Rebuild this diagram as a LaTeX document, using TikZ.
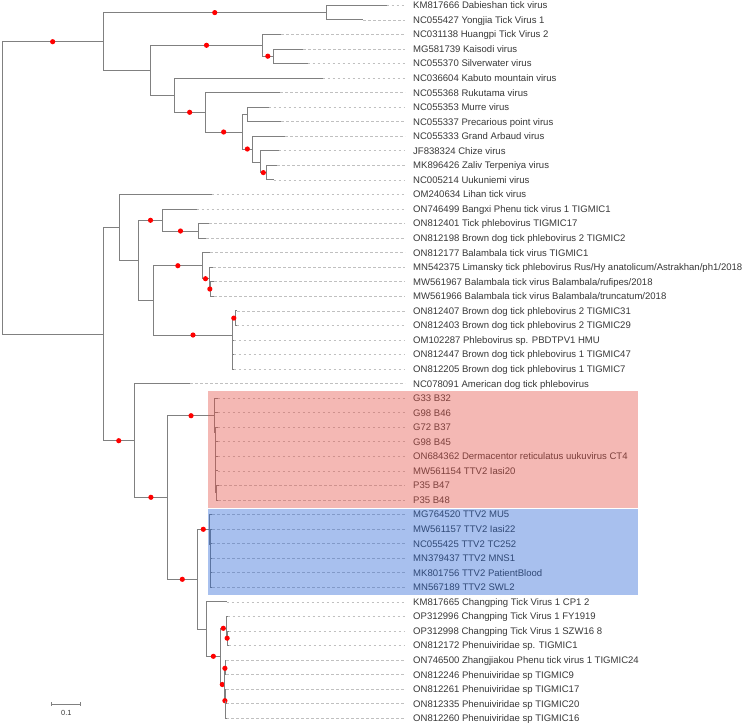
\documentclass[tikz,border=0pt]{standalone}
\usepackage{fontspec}
\setmainfont{Liberation Sans}
\definecolor{brc}{RGB}{128,128,128}
\definecolor{dshc}{RGB}{192,192,192}
\definecolor{txtc}{RGB}{55,55,55}
\definecolor{pinkc}{RGB}{228,77,67}
\definecolor{bluec}{RGB}{37,98,212}
\tikzset{
  br/.style={draw=brc,line width=0.9pt},
  dashln/.style={draw=dshc,line width=0.7pt,dash pattern=on 2.7pt off 2.3pt,shorten >=8pt},
  lab/.style={anchor=west,inner xsep=0pt,inner ysep=0pt,text height=6.85pt,text depth=0pt,text=txtc,font=\fontsize{9.55}{11}\selectfont},
  rdot/.style={circle,fill=red,inner sep=0pt,minimum size=5.2pt},
}
\newcommand\mkleaf[4]{%
  \coordinate (t#1) at (#2,{5.3+(#1-1)*14.55});
  \node[lab] (l#1) at (413,{5.3+(#1-1)*14.55}) {#4};
  \draw[dashln] (t#1) -- (l#1.west);
  \draw[br] (#3) |- (t#1);
}
\newcommand\pedge[2]{\draw[br] (#1) |- (#2);}
\newcommand\dedge[2]{\draw[br] (#1) |- (#2) node[rdot,pos=0.75] (d#2) {};}
\begin{document}
\begin{tikzpicture}[x=1pt,y=-1pt]
\useasboundingbox (0,0) rectangle (749,726);
% internal nodes
\coordinate (root) at (2.3,188);
\coordinate (A) at (103,41.7);
\coordinate (M) at (103,334.3);
\coordinate (B) at (326.5,12.6);
\coordinate (C) at (150.7,70.3);
\coordinate (D) at (262.3,45.3);
\coordinate (E) at (273.3,56.2);
\coordinate (F) at (174,95.3);
\coordinate (G) at (205.3,112.3);
\coordinate (H) at (242,132);
\coordinate (I) at (247.3,114.4);
\coordinate (J) at (252.7,149);
\coordinate (K) at (260,162);
\coordinate (L) at (266.7,172.6);
\coordinate (N) at (119.7,227.3);
\coordinate (O) at (138.7,260.3);
\coordinate (P) at (162.3,220.3);
\coordinate (Q) at (198.7,231);
\coordinate (R) at (153.7,300);
\coordinate (S) at (202,265.7);
\coordinate (T) at (209,278.7);
\coordinate (U) at (210.7,289);
\coordinate (V) at (232.3,335);
\coordinate (W) at (235.3,318.1);
\coordinate (X) at (134.5,440.7);
\coordinate (Y) at (167.3,497.3);
\coordinate (Z) at (214.8,415.7);
\coordinate (Z2) at (215.7,432);
\coordinate (Z3) at (216.7,492.7);
\coordinate (AA) at (197.3,579.3);
\coordinate (BL) at (209.3,529.3);
\coordinate (BL2) at (210,544);
\coordinate (BL3) at (210.8,551);
\coordinate (BB) at (206.7,629.3);
\coordinate (CC) at (220,656.3);
\coordinate (DD) at (226.6,628.3);
\coordinate (FF) at (227.7,638.2);
\coordinate (EE) at (224.6,684.5);
\coordinate (GG) at (225.2,668.3);
\coordinate (HH) at (225.2,700.7);
\coordinate (II) at (225.8,711);
% leaves
\mkleaf{1}{386.7}{B}{KM817666 Dabieshan tick virus}
\mkleaf{2}{363.3}{B}{NC055427 Yongjia Tick Virus 1}
\mkleaf{3}{281}{D}{NC031138 Huangpi Tick Virus 2}
\mkleaf{4}{303.3}{E}{MG581739 Kaisodi virus}
\mkleaf{5}{307.5}{E}{NC055370 Silverwater virus}
\mkleaf{6}{322.5}{F}{NC036604 Kabuto mountain virus}
\mkleaf{7}{280}{G}{NC055368 Rukutama virus}
\mkleaf{8}{268.7}{I}{NC055353 Murre virus}
\mkleaf{9}{281}{I}{NC055337 Precarious point virus}
\mkleaf{10}{285}{J}{NC055333 Grand Arbaud virus}
\mkleaf{11}{278.5}{K}{JF838324 Chize virus}
\mkleaf{12}{277}{L}{MK896426 Zaliv Terpeniya virus}
\mkleaf{13}{273.5}{L}{NC005214 Uukuniemi virus}
\mkleaf{14}{211.7}{N}{OM240634 Lihan tick virus}
\mkleaf{15}{196.7}{P}{ON746499 Bangxi Phenu tick virus 1 TIGMIC1}
\mkleaf{16}{209.3}{Q}{ON812401 Tick phlebovirus TIGMIC17}
\mkleaf{17}{206.3}{Q}{ON812198 Brown dog tick phlebovirus 2 TIGMIC2}
\mkleaf{18}{210}{S}{ON812177 Balambala tick virus TIGMIC1}
\mkleaf{19}{213}{T}{MN542375 Limansky tick phlebovirus Rus/Hy anatolicum/Astrakhan/ph1/2018}
\mkleaf{20}{214}{U}{MW561967 Balambala tick virus Balambala/rufipes/2018}
\mkleaf{21}{214}{U}{MW561966 Balambala tick virus Balambala/truncatum/2018}
\mkleaf{22}{237}{W}{ON812407 Brown dog tick phlebovirus 2 TIGMIC31}
\mkleaf{23}{236.5}{W}{ON812403 Brown dog tick phlebovirus 2 TIGMIC29}
\mkleaf{24}{233.5}{V}{OM102287 Phlebovirus sp. PBDTPV1 HMU}
\mkleaf{25}{233.5}{V}{ON812447 Brown dog tick phlebovirus 1 TIGMIC47}
\mkleaf{26}{233.5}{V}{ON812205 Brown dog tick phlebovirus 1 TIGMIC7}
\mkleaf{27}{190}{X}{NC078091 American dog tick phlebovirus}
\mkleaf{28}{217.5}{Z}{G33 B32}
\mkleaf{29}{217.5}{Z}{G98 B46}
\mkleaf{30}{217.5}{Z2}{G72 B37}
\mkleaf{31}{217.5}{Z2}{G98 B45}
\mkleaf{32}{217.5}{Z2}{ON684362 Dermacentor reticulatus uukuvirus CT4}
\mkleaf{33}{217.5}{Z2}{MW561154 TTV2 Iasi20}
\mkleaf{34}{219}{Z3}{P35 B47}
\mkleaf{35}{218}{Z3}{P35 B48}
\mkleaf{36}{212}{BL}{MG764520 TTV2 MU5}
\mkleaf{37}{212}{BL2}{MW561157 TTV2 Iasi22}
\mkleaf{38}{212}{BL3}{NC055425 TTV2 TC252}
\mkleaf{39}{212}{BL3}{MN379437 TTV2 MNS1}
\mkleaf{40}{212}{BL2}{MK801756 TTV2 PatientBlood}
\mkleaf{41}{212}{BL2}{MN567189 TTV2 SWL2}
\mkleaf{42}{226.7}{BB}{KM817665 Changping Tick Virus 1 CP1 2}
\mkleaf{43}{227.5}{DD}{OP312996 Changping Tick Virus 1 FY1919}
\mkleaf{44}{228.5}{FF}{OP312998 Changping Tick Virus 1 SZW16 8}
\mkleaf{45}{228.5}{FF}{ON812172 Phenuiviridae sp. TIGMIC1}
\mkleaf{46}{226}{GG}{ON746500 Zhangjiakou Phenu tick virus 1 TIGMIC24}
\mkleaf{47}{226}{GG}{ON812246 Phenuiviridae sp TIGMIC9}
\mkleaf{48}{226}{HH}{ON812261 Phenuiviridae sp TIGMIC17}
\mkleaf{49}{226}{II}{ON812335 Phenuiviridae sp TIGMIC20}
\mkleaf{50}{226}{II}{ON812260 Phenuiviridae sp TIGMIC16}
% internal edges
\dedge{root}{A}
\pedge{root}{M}
\dedge{A}{B}
\pedge{A}{C}
\dedge{C}{D}
\dedge{D}{E}
\pedge{C}{F}
\dedge{F}{G}
\dedge{G}{H}
\pedge{H}{I}
\dedge{H}{J}
\pedge{J}{K}
\dedge{K}{L}
\pedge{M}{N}
\pedge{N}{O}
\dedge{O}{P}
\dedge{P}{Q}
\pedge{O}{R}
\dedge{R}{S}
\dedge{S}{T}
\dedge{T}{U}
\dedge{R}{V}
\dedge{V}{W}
\dedge{M}{X}
\dedge{X}{Y}
\dedge{Y}{Z}
\pedge{Z}{Z2}
\pedge{Z2}{Z3}
\dedge{Y}{AA}
\dedge{AA}{BL}
\pedge{BL}{BL2}
\pedge{BL2}{BL3}
\pedge{AA}{BB}
\dedge{BB}{CC}
\dedge{CC}{DD}
\dedge{DD}{FF}
\dedge{CC}{EE}
\dedge{EE}{GG}
\dedge{EE}{HH}
\pedge{HH}{II}
% highlight boxes
\fill[pinkc,fill opacity=0.4] (207.7,390.7) rectangle (637.7,507.6);
\fill[bluec,fill opacity=0.4] (207.7,508.8) rectangle (637.7,595.2);
% scale bar
\coordinate (sb1) at (51.7,704);
\coordinate (sb2) at (80.7,704);
\draw[br,line width=0.8pt] (sb1) -- (sb2);
\draw[br,line width=0.8pt] ([yshift=-1.6pt]sb1) -- ([yshift=1.6pt]sb1);
\draw[br,line width=0.8pt] ([yshift=-1.6pt]sb2) -- ([yshift=1.6pt]sb2);
\node[text=txtc,font=\fontsize{7.4}{8}\selectfont,inner sep=0pt] (sbl) at (66.3,713.3) {0.1};
\end{tikzpicture}
\end{document}
